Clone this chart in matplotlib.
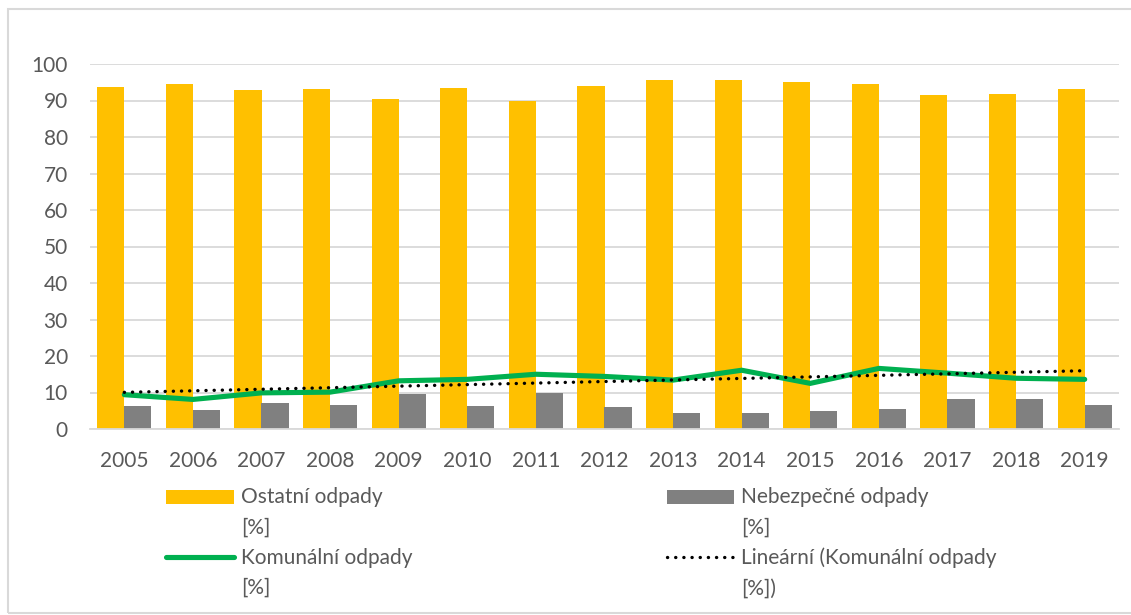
import matplotlib.pyplot as plt
import numpy as np
from matplotlib.patches import Rectangle
from matplotlib.lines import Line2D
from matplotlib.legend_handler import HandlerPatch, HandlerLine2D

plt.rcParams['font.family'] = ['Lato', 'DejaVu Sans']
plt.rcParams['font.size'] = 15

### data ###
roky = [2005, 2006, 2007, 2008, 2009, 2010, 2011, 2012, 2013, 2014, 2015, 2016, 2017, 2018, 2019]
ostatni = [93.6, 94.6, 92.9, 93.2, 90.3, 93.5, 89.9, 94.0, 95.5, 95.5, 95.2, 94.4, 91.6, 91.7, 93.2]
nebezpecne = [6.2, 5.3, 7.0, 6.7, 9.5, 6.2, 10.0, 5.9, 4.5, 4.4, 4.8, 5.5, 8.3, 8.1, 6.6]
komunalni = [9.4, 8.1, 9.9, 10.1, 13.2, 13.6, 15.0, 14.4, 13.4, 16.1, 12.5, 16.6, 15.3, 13.9, 13.6]

zluta = '#FFC000'
seda = '#808080'
zelena = '#00B050'
txt = '#595959'
mriz = '#D9D9D9'

fig = plt.figure(figsize=(11.31, 6.15), dpi=100)
ax = fig.add_axes([90/1131, 1-429/615, (1119-90)/1131, (429-64)/615])

x = np.arange(len(roky))
w = 0.395
b1 = ax.bar(x - w/2, ostatni, w, color=zluta, zorder=2)
b2 = ax.bar(x + w/2, nebezpecne, w, color=seda, zorder=2)
l1, = ax.plot(x, komunalni, color=zelena, lw=3.7, solid_capstyle='round', solid_joinstyle='miter', zorder=3)

### linear trend (as Excel does) ###
k, q = np.polyfit(x, komunalni, 1)
l2, = ax.plot(x, k*x + q, color='black', lw=2.4, ls=(0, (0.05, 2.4)), dash_capstyle='round', zorder=4)

ax.set_xlim(-0.5, len(roky) - 0.5)
ax.set_ylim(0, 100)
ax.set_yticks(np.arange(0, 101, 10))
ax.set_xticks(x)
ax.set_xticklabels([str(r) for r in roky])
ax.yaxis.grid(True, color=mriz, lw=1.3, zorder=0)
ax.set_axisbelow(True)
for s in ['top', 'right', 'left']:
    ax.spines[s].set_visible(False)
ax.spines['bottom'].set_color(mriz)
ax.spines['bottom'].set_linewidth(1.3)
ax.tick_params(axis='both', length=0, colors=txt, labelsize=15)
ax.tick_params(axis='x', pad=16)
ax.tick_params(axis='y', pad=16)


### legend handles sitting on the first text line ###
POSUN = 0.78


class HorniPatch(HandlerPatch):
    def create_artists(self, legend, orig_handle, xdescent, ydescent, width, height, fontsize, trans):
        p = Rectangle((-xdescent, -ydescent + POSUN*fontsize), width, height, facecolor=orig_handle.get_facecolor(),
                      edgecolor='none', transform=trans)
        return [p]


class HorniLine(HandlerLine2D):
    def create_artists(self, legend, orig_handle, xdescent, ydescent, width, height, fontsize, trans):
        arts = super().create_artists(legend, orig_handle, xdescent, ydescent, width, height, fontsize, trans)
        for a in arts:
            a.set_ydata(np.asarray(a.get_ydata()) + POSUN*fontsize)
        return arts


leg = fig.legend([b1[0], l1, b2[0], l2],
                 ['Ostatní odpady\n[%]', 'Komunální odpady\n[%]', 'Nebezpečné odpady\n[%]', 'Lineární (Komunální odpady\n[%])'],
                 ncol=2, loc='upper left', bbox_to_anchor=(156/1131, 1-477/615), frameon=False, borderpad=0,
                 handlelength=3.25, handleheight=0.7, handletextpad=0.33, columnspacing=12.2, labelspacing=0.5,
                 fontsize=15, labelcolor=txt,
                 handler_map={Rectangle: HorniPatch(), Line2D: HorniLine()})
for t in leg.get_texts():
    t.set_linespacing(1.62)

fig.patches.append(Rectangle((8/1131, 2/615), 1130/1131, 604/615, transform=fig.transFigure,
                             fill=False, edgecolor=mriz, lw=1.5))

fig.savefig('out.png', dpi=100)
